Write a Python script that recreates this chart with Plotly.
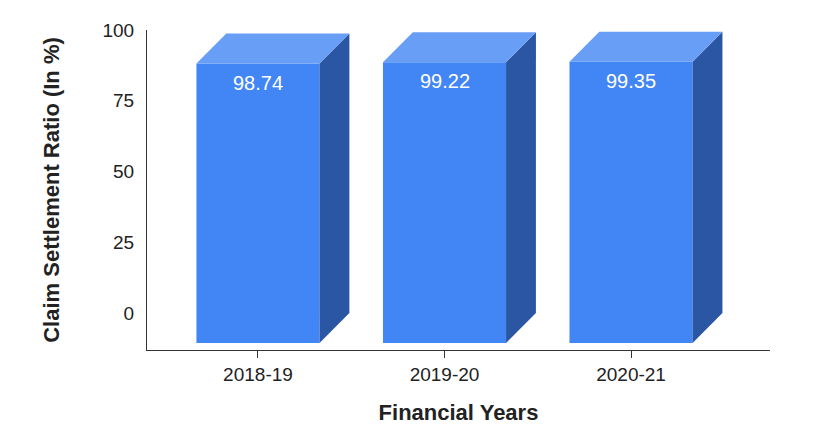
import plotly.graph_objects as go

years = ["2018-19", "2019-20", "2020-21"]
ratios = [98.74, 99.22, 99.35]

base = -10.5   # floor of the bars
half = 0.33    # half width of front face (category units)
dx = 0.16      # depth offset in x
dy = 10.6      # depth offset in y

front_c = "#4285f4"
side_c = "#2b56a3"
top_c = "#699ef6"

fig = go.Figure()
for i, v in enumerate(ratios):
    l, r = i - half, i + half
    ft = v - dy
    polys = [
        ([l, r, r, l, l], [base, base, ft, ft, base], front_c),
        ([r, r + dx, r + dx, r, r], [base, base + dy, v, ft, base], side_c),
        ([l, l + dx, r + dx, r, l], [ft, v, v, ft, ft], top_c),
    ]
    for xs, ys, c in polys:
        fig.add_trace(go.Scatter(x=xs, y=ys, fill="toself", fillcolor=c,
                                 mode="lines", line=dict(width=0, color=c),
                                 hoverinfo="skip", showlegend=False))
    fig.add_annotation(x=i, y=ft, yshift=-19, text=f"{v:.2f}", showarrow=False,
                       font=dict(color="white", size=20))

fig.update_layout(
    width=813, height=434,
    margin=dict(l=139, r=51, t=22, b=92),
    plot_bgcolor="white", paper_bgcolor="white",
    font=dict(family="Liberation Sans, Arial", size=19, color="#222"),
    xaxis=dict(range=[-0.595, 2.745], tickvals=[0, 1, 2], ticktext=years,
               showgrid=False, zeroline=False, showline=True, linecolor="#333",
               ticks="outside", ticklen=7, tickcolor="#333",
               title=dict(text="<b>Financial Years</b>", font=dict(size=22), standoff=20)),
    yaxis=dict(range=[-13, 100], tickvals=[0, 25, 50, 75, 100],
               showgrid=False, zeroline=False, showline=True, linecolor="#333",
               ticks="", ticklabelstandoff=8,
               title=dict(text="<b>Claim Settlement Ratio (In %)</b>", font=dict(size=22), standoff=36)),
)

fig.write_html("out.html")
